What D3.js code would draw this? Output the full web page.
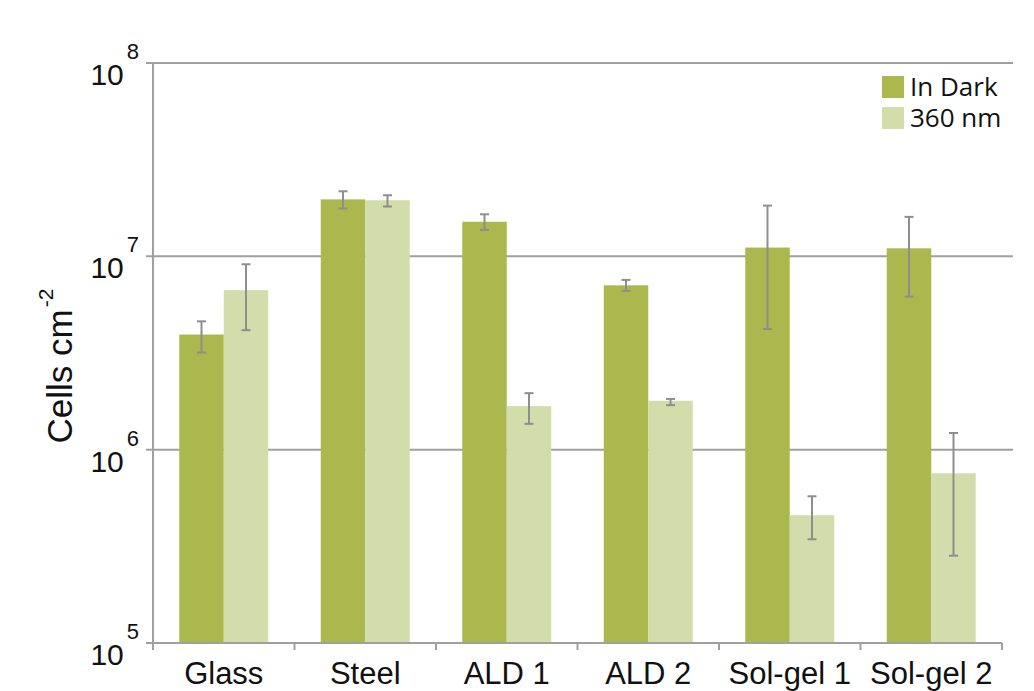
<!DOCTYPE html>
<html>
<head>
<meta charset="utf-8">
<script src="https://cdn.jsdelivr.net/npm/d3@7/dist/d3.min.js"></script>
<style>
  html, body { margin: 0; padding: 0; background: #ffffff; }
  svg { display: block; }
</style>
</head>
<body>
<svg id="chart" width="1034" height="691"></svg>
<script>
// Surface categories and cell counts (cells per cm²)
const categories = ["Glass", "Steel", "ALD 1", "ALD 2", "Sol-gel 1", "Sol-gel 2"];
const seriesNames = ["In Dark", "360 nm"];

const darkValues = [3.94e6, 1.97e7, 1.51e7, 7.08e6, 1.11e7, 1.10e7];
const darkErrLow = [3.18e6, 1.77e7, 1.37e7, 6.62e6, 4.21e6, 6.19e6];
const darkErrHigh = [4.61e6, 2.17e7, 1.65e7, 7.55e6, 1.83e7, 1.60e7];

const lightValues = [6.68e6, 1.95e7, 1.68e6, 1.79e6, 4.58e5, 7.55e5];
const lightErrLow = [4.15e6, 1.81e7, 1.36e6, 1.70e6, 3.44e5, 2.83e5];
const lightErrHigh = [9.10e6, 2.07e7, 1.96e6, 1.83e6, 5.74e5, 1.22e6];

const tickExponents = [5, 6, 7, 8];
const yLabel = "Cells cm";
const yLabelExp = "-2";

const colors = ["#aab84e", "#d3dcab"];
const gridColor = "#a0a0a0";
const errColor = "#8e8e8e";

const svg = d3.select("#chart");

const plot = { left: 153, right: 1002, gridRight: 1013, top: 63, bottom: 643 };

const y = d3.scaleLog()
  .domain([1e5, 1e8])
  .range([plot.bottom, plot.top]);

const x = d3.scaleBand()
  .domain(categories)
  .range([plot.left, plot.right])
  .padding(0);

const xInner = d3.scaleBand()
  .domain(seriesNames)
  .range([0, x.bandwidth()])
  .paddingInner(0)
  .paddingOuter(0.59);

// Horizontal gridlines (decades above the baseline)
const decades = tickExponents.map(e => Math.pow(10, e));
svg.append("g")
  .selectAll("line")
  .data(decades.filter(d => d > 1e5))
  .join("line")
  .attr("x1", plot.left - 7)
  .attr("x2", plot.gridRight)
  .attr("y1", d => y(d))
  .attr("y2", d => y(d))
  .attr("stroke", gridColor)
  .attr("stroke-width", 2);

// Bars
const rows = categories.map((c, i) => ({
  cat: c,
  bars: [
    { s: seriesNames[0], v: darkValues[i], lo: darkErrLow[i], hi: darkErrHigh[i], color: colors[0] },
    { s: seriesNames[1], v: lightValues[i], lo: lightErrLow[i], hi: lightErrHigh[i], color: colors[1] }
  ]
}));

const groups = svg.append("g")
  .selectAll("g")
  .data(rows)
  .join("g")
  .attr("transform", d => `translate(${x(d.cat)},0)`);

groups.selectAll("rect")
  .data(d => d.bars)
  .join("rect")
  .attr("x", d => xInner(d.s))
  .attr("width", xInner.bandwidth())
  .attr("y", d => y(d.v))
  .attr("height", d => y(1e5) - y(d.v))
  .attr("fill", d => d.color);

// Error bars
const eb = groups.selectAll("g.err")
  .data(d => d.bars)
  .join("g")
  .attr("class", "err")
  .attr("stroke", errColor)
  .attr("stroke-width", 2);

eb.append("line")
  .attr("x1", d => xInner(d.s) + xInner.bandwidth() / 2)
  .attr("x2", d => xInner(d.s) + xInner.bandwidth() / 2)
  .attr("y1", d => y(d.hi))
  .attr("y2", d => y(d.lo));

eb.selectAll("line.cap")
  .data(d => [{ s: d.s, v: d.hi }, { s: d.s, v: d.lo }])
  .join("line")
  .attr("class", "cap")
  .attr("x1", d => xInner(d.s) + xInner.bandwidth() / 2 - 4.5)
  .attr("x2", d => xInner(d.s) + xInner.bandwidth() / 2 + 4.5)
  .attr("y1", d => y(d.v))
  .attr("y2", d => y(d.v));

// Axes lines
svg.append("line")
  .attr("x1", plot.left).attr("x2", plot.left)
  .attr("y1", plot.top).attr("y2", plot.bottom)
  .attr("stroke", gridColor).attr("stroke-width", 2);

svg.append("line")
  .attr("x1", plot.left - 7).attr("x2", plot.right)
  .attr("y1", plot.bottom).attr("y2", plot.bottom)
  .attr("stroke", gridColor).attr("stroke-width", 2);

// Category boundary ticks
const boundaries = categories.map(c => x(c)).concat([plot.right]);
svg.append("g")
  .selectAll("line")
  .data(boundaries)
  .join("line")
  .attr("x1", d => d).attr("x2", d => d)
  .attr("y1", plot.bottom).attr("y2", plot.bottom + 7)
  .attr("stroke", gridColor).attr("stroke-width", 2);

// Category labels
svg.append("g")
  .selectAll("text")
  .data(categories)
  .join("text")
  .attr("x", d => x(d) + x.bandwidth() / 2)
  .attr("y", 684)
  .attr("text-anchor", "middle")
  .attr("font-family", "'Liberation Sans', Arial, sans-serif")
  .attr("font-size", 31)
  .attr("fill", "#111")
  .text(d => d);

// Decade tick labels with superscript exponents
const tl = svg.append("g")
  .selectAll("text")
  .data(tickExponents)
  .join("text")
  .attr("x", 139)
  .attr("y", d => y(Math.pow(10, d)) + 22)
  .attr("text-anchor", "end")
  .attr("font-family", "'Liberation Sans', Arial, sans-serif")
  .attr("fill", "#111");
tl.append("tspan").attr("font-size", 30).text("10");
tl.append("tspan").attr("font-size", 22).attr("dx", 3).attr("dy", -26).text(d => d);

// Y axis title
const yt = svg.append("text")
  .attr("transform", "translate(72,366) rotate(-90)")
  .attr("text-anchor", "middle")
  .attr("font-family", "'Liberation Sans', Arial, sans-serif")
  .attr("fill", "#111");
yt.append("tspan").attr("font-size", 35).text(yLabel);
yt.append("tspan").attr("font-size", 21).attr("dx", 2).attr("dy", -19).text(yLabelExp);

// Legend
const legend = svg.append("g")
  .selectAll("g")
  .data(seriesNames)
  .join("g")
  .attr("transform", (d, i) => `translate(882,${76 + i * 31})`);
legend.append("rect")
  .attr("width", 22).attr("height", 22)
  .attr("fill", (d, i) => colors[i]);
legend.append("text")
  .attr("x", 28).attr("y", 20)
  .attr("font-family", "'Open Sans', sans-serif")
  .attr("font-size", 26)
  .attr("fill", "#111")
  .text(d => d);
</script>
</body>
</html>
